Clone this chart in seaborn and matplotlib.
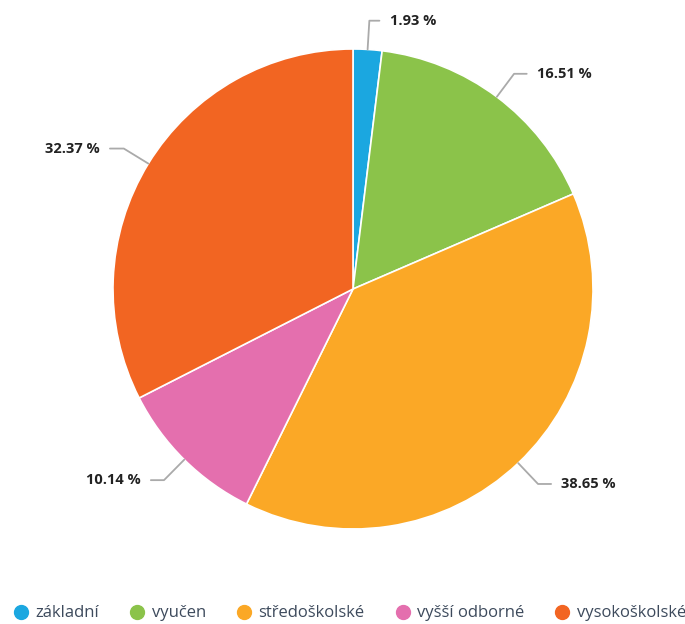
import numpy as np
import matplotlib
matplotlib.use("Agg")
import matplotlib.pyplot as plt
from matplotlib.lines import Line2D
import seaborn as sns
sns.set_style("white")
plt.rcParams['font.family'] = ['Open Sans', 'DejaVu Sans']

# data
categories = ["základní", "vyučen", "středoškolské", "vyšší odborné", "vysokoškolské"]
values = [1.93, 16.51, 38.65, 10.14, 32.37]
colors = ["#1ba7e0", "#8bc34a", "#fba826", "#e46fae", "#f26522"]

fig = plt.figure(figsize=(6.85, 6.24), dpi=100)
ax = fig.add_axes([0, 0, 1, 1])

cx, cy, r = 353, 335, 240
wedges, _ = ax.pie(values, colors=colors, startangle=90, counterclock=False,
                   center=(cx, cy), radius=r, frame=True,
                   wedgeprops=dict(edgecolor="white", linewidth=1.2))
ax.set_xlim(0, 685)
ax.set_ylim(0, 624)
ax.set_aspect("equal")
ax.axis("off")

# labels with leader lines
for w, v in zip(wedges, values):
    ang = (w.theta1 + w.theta2) / 2
    c, s = np.cos(np.deg2rad(ang)), np.sin(np.deg2rad(ang))
    ha = "left" if c >= 0 else "right"
    xt = cx + r * 1.14 * c + (20 if c >= 0 else -20)
    yt = cy + r * 1.12 * s
    ax.annotate(f"{v:.2f} %", xy=(cx + r * c, cy + r * s), xytext=(xt, yt),
                ha=ha, va="center", fontsize=10.5, fontweight="bold", color="#222222",
                arrowprops=dict(arrowstyle="-", color="#aaaaaa", lw=1.3,
                                shrinkA=5, shrinkB=0,
                                connectionstyle=f"angle,angleA=0,angleB={ang}"))

handles = [Line2D([0], [0], marker="o", linestyle="", markersize=10,
                  markerfacecolor=c, markeredgecolor=c) for c in colors]
fig.legend(handles, categories, loc="lower center", bbox_to_anchor=(0.51, -0.02),
           ncol=5, frameon=False, fontsize=12, labelcolor="#3d4a5c",
           handletextpad=0.35, columnspacing=1.8, handlelength=1.0)

fig.savefig("out.png", dpi=100)
